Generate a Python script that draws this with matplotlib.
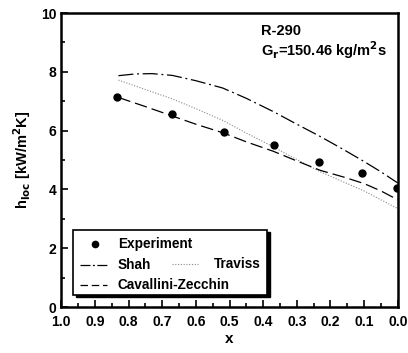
import numpy as np
import matplotlib.pyplot as plt
from matplotlib.patches import Rectangle
from matplotlib.lines import Line2D

plt.rcParams['font.family'] = ['Liberation Sans', 'DejaVu Sans']
plt.rcParams['font.weight'] = 'bold'

# experimental points
x_exp = [0.833, 0.670, 0.517, 0.369, 0.234, 0.105, 0.003]
h_exp = [7.13, 6.56, 5.95, 5.50, 4.92, 4.57, 4.04]

# correlations
x_shah = [0.83, 0.78, 0.73, 0.67, 0.60, 0.52, 0.45, 0.37, 0.30, 0.23, 0.16, 0.10, 0.05, 0.0]
h_shah = [7.87, 7.93, 7.94, 7.88, 7.70, 7.45, 7.10, 6.65, 6.22, 5.80, 5.35, 4.95, 4.60, 4.22]

x_trav = [0.83, 0.75, 0.67, 0.60, 0.52, 0.45, 0.37, 0.30, 0.23, 0.16, 0.10, 0.05, 0.0]
h_trav = [7.72, 7.40, 7.08, 6.75, 6.35, 5.92, 5.45, 5.02, 4.60, 4.25, 3.95, 3.65, 3.35]

x_cz = [0.83, 0.75, 0.67, 0.60, 0.52, 0.45, 0.37, 0.30, 0.23, 0.16, 0.10, 0.05, 0.0]
h_cz = [7.13, 6.82, 6.50, 6.22, 5.93, 5.62, 5.30, 4.97, 4.65, 4.42, 4.20, 3.95, 3.65]

fig = plt.figure(figsize=(4.08, 3.53), dpi=100)
ax = fig.add_axes([0.150, 0.130, 0.825, 0.833])

ax.plot(x_shah, h_shah, color='black', lw=0.9, dashes=(12, 3, 1.5, 3))
ax.plot(x_trav, h_trav, color='#888888', lw=0.8, ls=(0, (1, 1.5)))
ax.plot(x_cz, h_cz, color='black', lw=0.9, dashes=(10, 4))
ax.plot(x_exp, h_exp, 'o', color='black', ms=5, zorder=5)

ax.set_xlim(1.0, 0.0)
ax.set_ylim(0, 10)
ax.set_xticks(np.arange(0, 1.01, 0.1))
ax.set_xticks(np.arange(0.05, 1.0, 0.1), minor=True)
ax.set_yticks([0, 2, 4, 6, 8, 10])
ax.set_yticks([1, 3, 5, 7, 9], minor=True)
ax.xaxis.set_major_formatter(plt.FuncFormatter(lambda v, p: f'{v:.1f}'))
ax.tick_params(which='both', direction='in', labelsize=10, width=1.2)
ax.tick_params(which='major', length=5)
ax.tick_params(which='minor', length=3)
ax.tick_params(axis='x', pad=6)
for lbl in ax.get_xticklabels() + ax.get_yticklabels():
    lbl.set_fontweight('bold')
for s in ax.spines.values():
    s.set_linewidth(1.8)

ax.set_xlabel('x', fontsize=11, fontweight='bold', labelpad=2)
ax.set_ylabel('h$_{\\mathbf{loc}}$ [kW/m$^{\\mathbf{2}}$K]', fontsize=10.5, fontweight='bold', labelpad=6)

ax.text(0.595, 0.925, 'R-290', transform=ax.transAxes, fontsize=10.5, fontweight='bold')
ax.text(0.595, 0.855, 'G$_{\\mathbf{r}}$=150.46 kg/m$^{\\mathbf{2}}$s', transform=ax.transAxes,
        fontsize=10.5, fontweight='bold')

# legend box drawn by hand
ax.add_patch(Rectangle((0.044, 0.033), 0.575, 0.222, transform=ax.transAxes,
                       facecolor='black', edgecolor='black', zorder=6))
ax.add_patch(Rectangle((0.036, 0.041), 0.575, 0.222, transform=ax.transAxes,
                       facecolor='white', edgecolor='black', lw=1.2, zorder=7))
T = ax.transAxes
ax.add_line(Line2D([0.10], [0.214], marker='o', color='black', ms=4.5, transform=T, zorder=8))
ax.text(0.168, 0.214, 'Experiment', transform=T, fontsize=9.8, fontweight='bold', va='center', zorder=8)
ax.add_line(Line2D([0.057, 0.135], [0.143, 0.143], color='black', lw=0.9, dashes=(8, 2, 1.5, 2),
                   transform=T, zorder=8))
ax.text(0.168, 0.143, 'Shah', transform=T, fontsize=9.8, fontweight='bold', va='center', zorder=8)
ax.add_line(Line2D([0.328, 0.405], [0.148, 0.148], color='#888888', lw=0.8, ls=(0, (1, 1.5)),
                   transform=T, zorder=8))
ax.text(0.455, 0.148, 'Traviss', transform=T, fontsize=9.8, fontweight='bold', va='center', zorder=8)
ax.add_line(Line2D([0.057, 0.135], [0.075, 0.075], color='black', lw=0.9, dashes=(6, 3),
                   transform=T, zorder=8))
ax.text(0.168, 0.075, 'Cavallini-Zecchin', transform=T, fontsize=9.8, fontweight='bold', va='center', zorder=8)

fig.savefig('out.png', dpi=100)
